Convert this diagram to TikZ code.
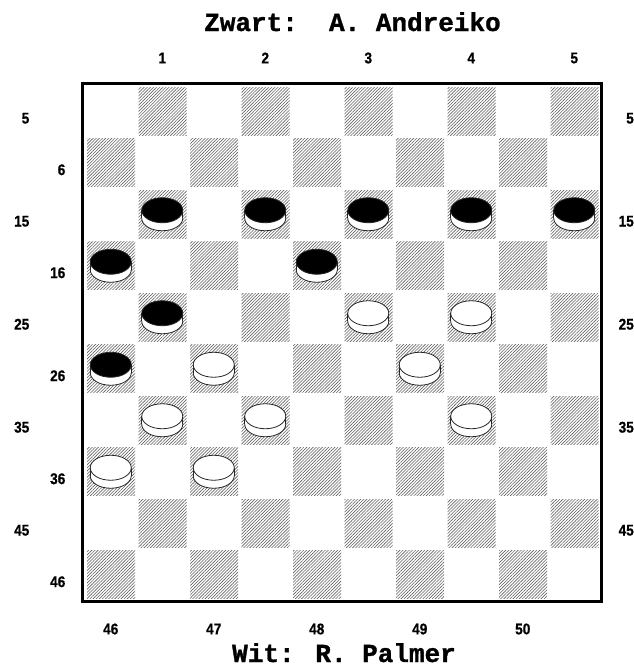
\documentclass[tikz,border=0pt]{standalone}
\usepackage{fontspec}
\usepackage{tikz}
\usetikzlibrary{patterns.meta}
\newfontfamily\namefont{Liberation Mono}[BoldFont={Liberation Mono Bold}, BoldFeatures={FakeBold=1.2}]
\newfontfamily\numfont{Liberation Sans}[BoldFont={Liberation Sans Bold}, BoldFeatures={FakeBold=0.8}]

% one draughts man: column, row, colour of the top
\newcommand{\man}[3]{%
	\pgfmathsetmacro{\manx}{85+51.5*(#1-0.5)}%
	\pgfmathsetmacro{\many}{85+51.5*(#2-0.5)+0.5}%
	\filldraw[manline, fill=white] (\manx,\many+4) ellipse [x radius=20.5pt, y radius=12.5pt];
	\fill[white] (\manx-20.5,\many-4) rectangle (\manx+20.5,\many+4);
	\draw[manline] (\manx-20.5,\many-4) -- (\manx-20.5,\many+4) (\manx+20.5,\many-4) -- (\manx+20.5,\many+4);
	\filldraw[manline, fill=#3] (\manx,\many-4) ellipse [x radius=20.5pt, y radius=12.5pt];
}

\begin{document}
\begin{tikzpicture}[x=1pt, y=-1pt,
		darksq/.style={pattern={Lines[angle=45, distance=2.2pt, line width=0.6pt]}, pattern color=black!62},
		manline/.style={draw=black!85, line width=0.8pt},
		num/.style={font=\numfont\bfseries\fontsize{15.5}{15.5}\selectfont, inner sep=0pt, xscale=0.88},
		player/.style={font=\namefont\bfseries\fontsize{26}{26}\selectfont, inner sep=0pt, anchor=base}]
	\useasboundingbox (0,0) rectangle (633,667);
	
	% Board
	\foreach \r in {0,...,9}{
		\foreach \k in {0,...,4}{
			\pgfmathsetmacro{\c}{2*\k+1-mod(\r,2)}
			\fill[darksq] ({85+51.5*\c+2},{85+51.5*\r+2}) rectangle ++(48,48);
		}
	}
	\draw[line width=3pt] (82.5,83.5) rectangle (601.5,601.5);
	
	% Men
	\man{2}{3}{black}
	\man{4}{3}{black}
	\man{6}{3}{black}
	\man{8}{3}{black}
	\man{10}{3}{black}
	\man{1}{4}{black}
	\man{5}{4}{black}
	\man{2}{5}{black}
	\man{1}{6}{black}
	\man{6}{5}{white}
	\man{8}{5}{white}
	\man{3}{6}{white}
	\man{7}{6}{white}
	\man{2}{7}{white}
	\man{4}{7}{white}
	\man{8}{7}{white}
	\man{1}{8}{white}
	\man{3}{8}{white}
	
	% Square numbers
	\node[num] (t1) at (162.25,58) {1};
	\node[num] (t2) at (265.25,58) {2};
	\node[num] (t3) at (368.25,58) {3};
	\node[num] (t4) at (471.25,58) {4};
	\node[num] (t5) at (574.25,58) {5};
	\node[num] (b46) at (110.75,629) {46};
	\node[num] (b47) at (213.75,629) {47};
	\node[num] (b48) at (316.75,629) {48};
	\node[num] (b49) at (419.75,629) {49};
	\node[num] (b50) at (522.75,629) {50};
	\node[num, anchor=east] (l5) at (29.5,118.25) {5};
	\node[num, anchor=east] (l6) at (65.5,169.75) {6};
	\node[num, anchor=east] (l15) at (29.5,221.25) {15};
	\node[num, anchor=east] (l16) at (65.5,272.75) {16};
	\node[num, anchor=east] (l25) at (29.5,324.25) {25};
	\node[num, anchor=east] (l26) at (65.5,375.75) {26};
	\node[num, anchor=east] (l35) at (29.5,427.25) {35};
	\node[num, anchor=east] (l36) at (65.5,478.75) {36};
	\node[num, anchor=east] (l45) at (29.5,530.25) {45};
	\node[num, anchor=east] (l46) at (65.5,581.75) {46};
	\node[num, anchor=east] (r5) at (634,118.25) {5};
	\node[num, anchor=east] (r15) at (634,221.25) {15};
	\node[num, anchor=east] (r25) at (634,324.25) {25};
	\node[num, anchor=east] (r35) at (634,427.25) {35};
	\node[num, anchor=east] (r45) at (634,530.25) {45};
	
	% Players
	\node[player] (zwart) at (352.5,31) {Zwart:~~A. Andreiko};
	\node[player] (wit) at (344,662) {Wit: R. Palmer};
\end{tikzpicture}
\end{document}
